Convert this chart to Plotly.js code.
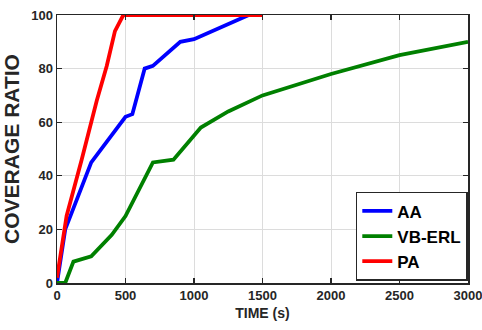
<!DOCTYPE html>
<html><head><meta charset="utf-8">
<script src="https://cdn.plot.ly/plotly-3.0.1.min.js"></script>
<style>html,body{margin:0;padding:0;background:#fff}#c{width:482px;height:330px}</style>
</head><body><div id="c"></div>
<script>
const seriesNames = ["AA", "VB-ERL", "PA"];
const aaX = [0, 60, 250, 500, 550, 640, 700, 900, 1000, 1400, 1500];
const aaY = [0, 20, 45, 62, 63, 80, 81, 90, 91, 100, 100];
const vbX = [0, 60, 120, 250, 400, 500, 700, 850, 1050, 1250, 1500, 2000, 2500, 3000];
const vbY = [0, 0, 8, 10, 18, 25, 45, 46, 58, 64, 70, 78, 85, 90];
const paX = [0, 70, 180, 240, 290, 363, 423, 484, 1500];
const paY = [2, 25, 46, 58, 68, 81, 94, 100, 100];
const colors = ["#0000ff", "#008000", "#ff0000"];
const xTicks = [0, 500, 1000, 1500, 2000, 2500, 3000];
const yTicks = [0, 20, 40, 60, 80, 100];

const fontFam = "Liberation Sans, Arial, sans-serif";
const mk = (x, y, i) => ({x: x, y: y, name: seriesNames[i], type: "scatter", mode: "lines",
  line: {color: colors[i], width: 3.8}});
const data = [mk(aaX, aaY, 0), mk(vbX, vbY, 1), mk(paX, paY, 2)];

const axisCommon = {
  showline: true, linecolor: "#262626", linewidth: 1.5, mirror: "ticks",
  ticks: "inside", ticklen: 5, tickwidth: 1.2, tickcolor: "#262626",
  showgrid: true, gridcolor: "#dcdcdc", gridwidth: 1, zeroline: false,
  ticklabeloverflow: "allow",
  tickfont: {family: fontFam, size: 13, color: "#262626", weight: "bold"}
};
const layout = {
  width: 482, height: 330,
  margin: {l: 57, r: 14, t: 15, b: 47},
  paper_bgcolor: "#fff", plot_bgcolor: "#fff",
  showlegend: true,
  xaxis: Object.assign({}, axisCommon, {range: [0, 3000], tickvals: xTicks, ticktext: xTicks.map(String),
    title: {text: "TIME (s)", standoff: 6, font: {family: fontFam, size: 14, color: "#262626", weight: "bold"}}}),
  yaxis: Object.assign({}, axisCommon, {range: [0, 100], tickvals: yTicks,
    title: {text: "COVERAGE RATIO", standoff: 8, font: {family: fontFam, size: 21, color: "#262626", weight: "bold"}}}),
  legend: {x: 0.727, y: 0.34, xanchor: "left", yanchor: "top",
    bgcolor: "#fff", bordercolor: "#262626", borderwidth: 1.5,
    font: {family: fontFam, size: 17, color: "#000", weight: "bold"},
    itemwidth: 30, tracegroupgap: 0}
};
Plotly.newPlot("c", data, layout, {displayModeBar: false, staticPlot: true});
</script></body></html>
